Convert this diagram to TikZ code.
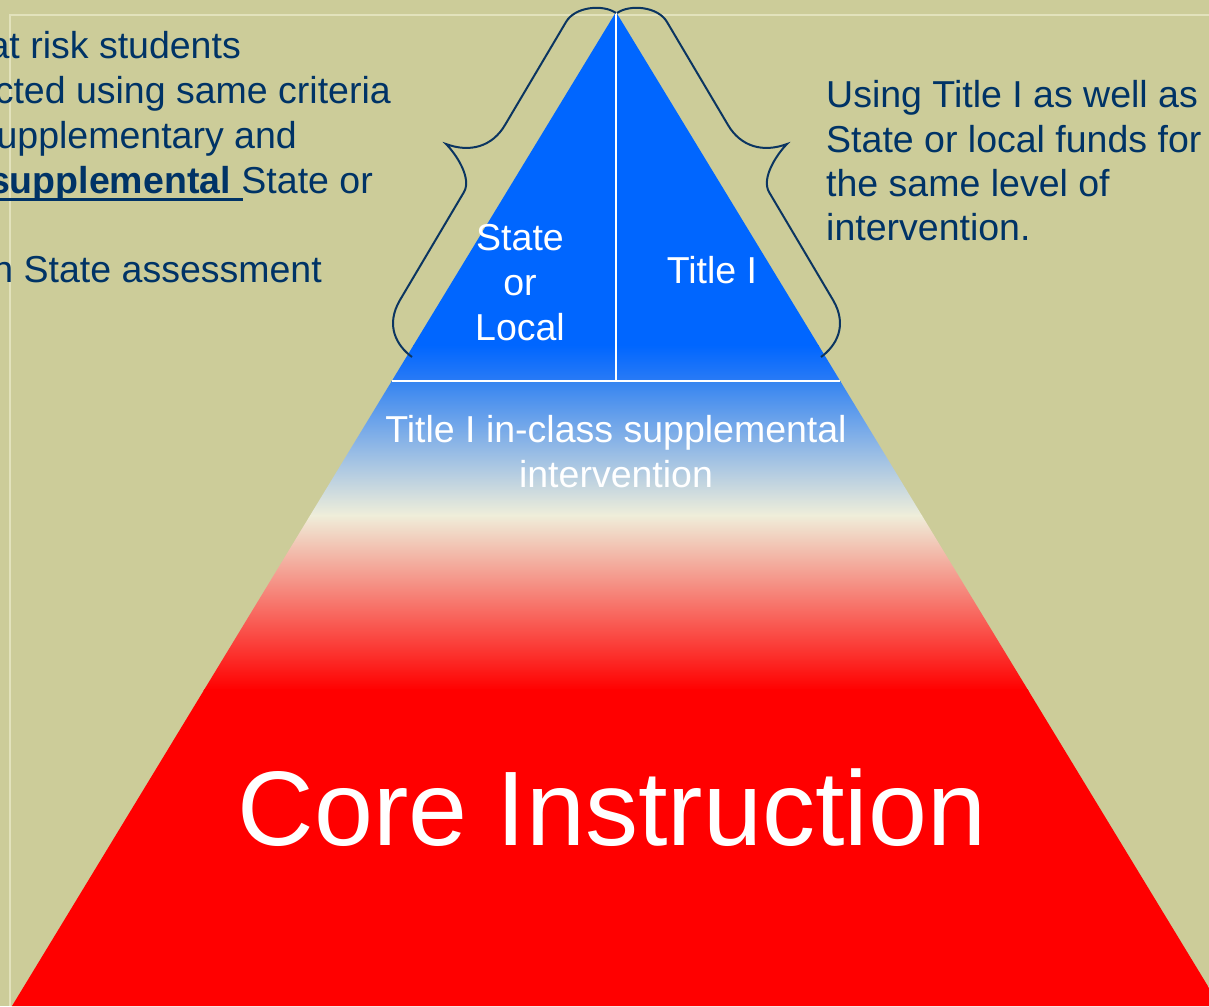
\documentclass[tikz,border=0pt]{standalone}
\usepackage{fontspec}
\setmainfont{Liberation Sans}
\definecolor{bg}{HTML}{CCCC99}
\definecolor{framecol}{HTML}{E2E2BC}
\definecolor{navy}{HTML}{003366}
\definecolor{bracecol}{HTML}{0B3561}
\definecolor{cA}{HTML}{0066FF}
\definecolor{cB}{HTML}{2A7BF5}
\definecolor{cC}{HTML}{3584F1}
\definecolor{cream}{HTML}{EFEEDA}
\definecolor{cR}{HTML}{FF0000}
\begin{document}
\begin{tikzpicture}[x=1pt,y=-1pt,
  side/.style={text=navy, font=\fontsize{37.5}{45}\selectfont, inner sep=0pt},
  lab/.style={text=white, font=\fontsize{37.5}{45}\selectfont, inner sep=0pt, anchor=base},
  bracestyle/.style={draw=bracecol, line width=2pt},
  frameline/.style={draw=framecol, line width=1.2pt}]
\clip (0,0) rectangle (1209,1006);
\fill[bg] (0,0) rectangle (1209,1006);
% faint frame
\coordinate (f0) at (10,15);
\coordinate (f1) at (1209,15);
\coordinate (f2) at (10,1006);
\draw[frameline] (f1) -- (f0) -- (f2);
% pyramid
\coordinate (apex) at (616,12);
\coordinate (bl) at (12,1006);
\coordinate (br) at (1220,1006);
\begin{scope}
  \clip (apex) -- (bl) -- (br) -- cycle;
  \fill[cA] (0,0) rectangle (1209,346);
  \shade[top color=cA, bottom color=cB] (0,345) rectangle (1209,381.5);
  \shade[top color=cC, bottom color=cream] (0,381) rectangle (1209,515.5);
  \shade[top color=cream, bottom color=cR] (0,515) rectangle (1209,690);
  \fill[cR] (0,689) rectangle (1209,1010);
\end{scope}
\coordinate (hl) at (392,381);
\coordinate (hr) at (840,381);
\coordinate (vb) at (616,381);
\draw[white, line width=2pt] (hl) -- (hr);
\draw[white, line width=2pt] (apex) -- (vb);
% braces
\draw[bracestyle] (616,13) .. controls (603,4) and (575,6.5) .. (566,22) -- (505,125)
  .. controls (492.3,146.6) and (470,153) .. (446,144)
  .. controls (456,154) and (472,178) .. (464,192) -- (400,300)
  .. controls (384.8,325.9) and (397,346) .. (412,357);
\begin{scope}[xshift=1233pt, xscale=-1]
\draw[bracestyle] (616,13) .. controls (603,4) and (575,6.5) .. (566,22) -- (505,125)
  .. controls (492.3,146.6) and (470,153) .. (446,144)
  .. controls (456,154) and (472,178) .. (464,192) -- (400,300)
  .. controls (384.8,325.9) and (397,346) .. (412,357);
\end{scope}
% left text
\node[side, anchor=base east] (lt1) at (241,59) {at risk students};
\node[side, anchor=base east] (lt2) at (391,104) {cted using same criteria};
\node[side, anchor=base east] (lt3) at (297,148) {upplementary and};
\node[side, anchor=base east, font=\fontsize{37.5}{45}\selectfont\bfseries] (lt4) at (231,193) {supplemental};
\node[side, anchor=base east] (lt4b) at (373,193) {State or};
\node[side, anchor=base east] (lt5) at (322,282) {h State assessment};
\coordinate (ul1) at (0,199.5);
\coordinate (ul2) at (243,199.5);
\draw[navy, line width=3pt] (ul1) -- (ul2);
% right text
\node[side, anchor=base west] (rt1) at (826,107) {Using Title I as well as};
\node[side, anchor=base west] (rt2) at (826,152) {State or local funds for};
\node[side, anchor=base west] (rt3) at (826,196) {the same level of};
\node[side, anchor=base west] (rt4) at (826,240) {intervention.};
% pyramid labels
\node[lab] (s1) at (520,250) {State};
\node[lab] (s2) at (520,295) {or};
\node[lab] (s3) at (520,340) {Local};
\node[lab] (t1) at (712,283) {Title I};
\node[lab] (m1) at (616,442) {Title I in-class supplemental};
\node[lab] (m2) at (616,487) {intervention};
\node[lab, font=\fontsize{106}{120}\selectfont] (core) at (612,845) {Core Instruction};
\end{tikzpicture}
\end{document}
